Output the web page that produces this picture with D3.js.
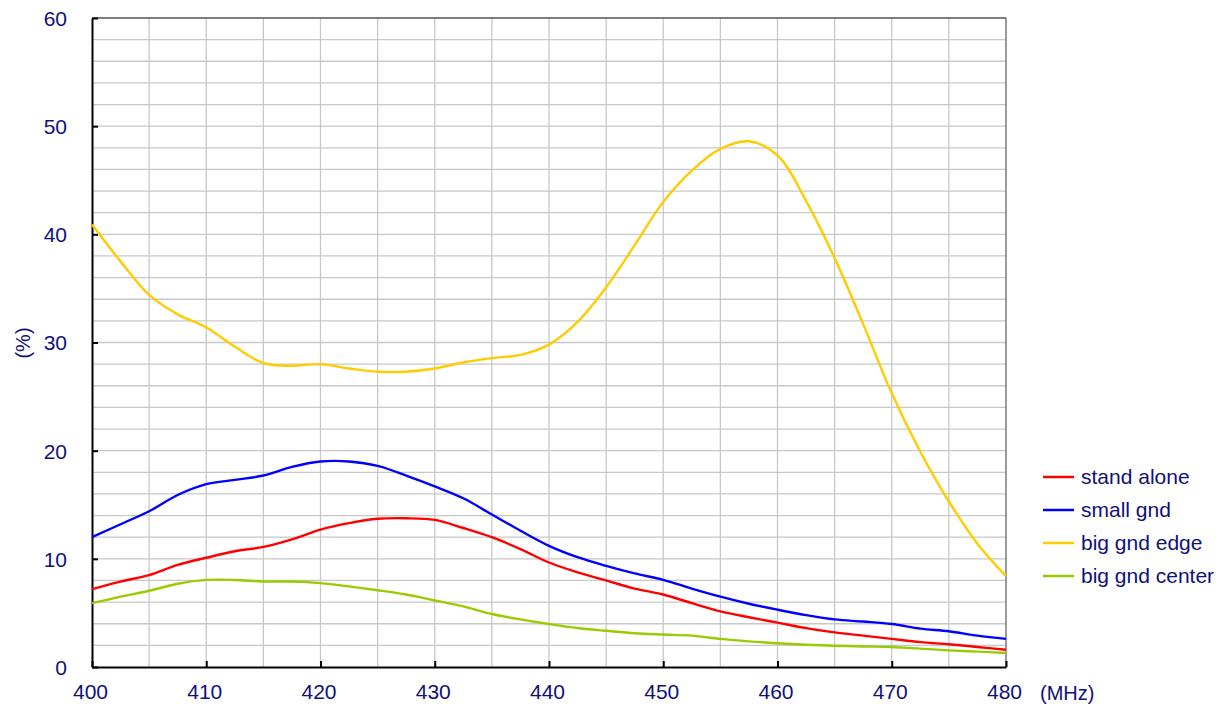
<!DOCTYPE html>
<html>
<head>
<meta charset="utf-8">
<script src="https://cdn.jsdelivr.net/npm/d3@7"></script>
<style>
  html, body { margin: 0; padding: 0; background: #fff; }
  svg { display: block; font-family: "Liberation Sans", Arial, sans-serif; }
</style>
</head>
<body>
<svg id="chart" width="1229" height="713"></svg>
<script>
// Frequency samples (MHz)
const freqs = [400, 402.5, 405, 407.5, 410, 412.5, 415, 417.5, 420, 422.5, 425, 427.5, 430,
  432.5, 435, 437.5, 440, 442.5, 445, 447.5, 450, 452.5, 455, 457.5, 460,
  462.5, 465, 467.5, 470, 472.5, 475, 477.5, 480];

// Efficiency (%) per configuration
const standAlone = [7.2, 7.9, 8.5, 9.45, 10.1, 10.7, 11.1, 11.8, 12.7, 13.3, 13.7, 13.75, 13.6,
  12.85, 12.0, 10.9, 9.66, 8.75, 8.0, 7.25, 6.7, 5.9, 5.15, 4.6, 4.1,
  3.6, 3.2, 2.9, 2.6, 2.3, 2.1, 1.85, 1.6];
const smallGnd = [12.0, 13.2, 14.4, 15.9, 16.9, 17.3, 17.7, 18.5, 19.0, 19.0, 18.6, 17.7, 16.7,
  15.6, 14.1, 12.6, 11.2, 10.15, 9.35, 8.65, 8.06, 7.25, 6.5, 5.85, 5.3,
  4.8, 4.4, 4.2, 3.97, 3.55, 3.3, 2.9, 2.6];
const bigGndEdge = [40.9, 37.5, 34.4, 32.6, 31.4, 29.6, 28.1, 27.85, 28.0, 27.6, 27.3, 27.3, 27.6,
  28.15, 28.55, 28.85, 29.8, 31.9, 35.1, 39.0, 43.0, 45.9, 47.9, 48.6, 47.3,
  43.1, 37.8, 31.7, 25.3, 19.9, 15.3, 11.4, 8.4];
const bigGndCenter = [5.9, 6.5, 7.05, 7.7, 8.05, 8.05, 7.9, 7.9, 7.75, 7.45, 7.1, 6.7, 6.15,
  5.6, 4.9, 4.4, 3.97, 3.6, 3.35, 3.12, 3.0, 2.9, 2.6, 2.37, 2.2,
  2.06, 1.97, 1.9, 1.85, 1.7, 1.54, 1.42, 1.3];

const seriesNames = ["stand alone", "small gnd", "big gnd edge", "big gnd center"];
const seriesColors = ["#ff0000", "#0000ff", "#ffcc00", "#99cc00"];
const seriesValues = [standAlone, smallGnd, bigGndEdge, bigGndCenter];

const xTicks = [400, 410, 420, 430, 440, 450, 460, 470, 480];
const yTicks = [0, 10, 20, 30, 40, 50, 60];

(function draw() {
  const textColor = "#10107a";
  const svg = d3.select("#chart");
  const pLeft = 92, pRight = 1006, pTop = 18, pBottom = 667;

  const x = d3.scaleLinear().domain([400, 480]).range([pLeft, pRight]);
  const y = d3.scaleLinear().domain([0, 60]).range([pBottom, pTop]);

  // grid
  const grid = svg.append("g");
  grid.selectAll("line.v").data(d3.range(405, 480, 5)).enter().append("line")
    .attr("x1", d => x(d)).attr("x2", d => x(d)).attr("y1", pTop).attr("y2", pBottom)
    .attr("stroke", "#c8c8c8").attr("stroke-width", 1.3);
  grid.selectAll("line.h").data(d3.range(2, 60, 2)).enter().append("line")
    .attr("x1", pLeft).attr("x2", pRight).attr("y1", d => y(d)).attr("y2", d => y(d))
    .attr("stroke", "#c8c8c8").attr("stroke-width", 1.3);

  // frame (top & right)
  svg.append("line").attr("x1", pLeft).attr("x2", pRight).attr("y1", pTop).attr("y2", pTop)
    .attr("stroke", "#555").attr("stroke-width", 1.3);
  svg.append("line").attr("x1", pRight).attr("x2", pRight).attr("y1", pTop).attr("y2", pBottom)
    .attr("stroke", "#666").attr("stroke-width", 1.3);

  // axes
  const xAxis = d3.axisBottom(x).tickValues(xTicks).tickSizeInner(-6).tickSizeOuter(0).tickPadding(17);
  const yAxis = d3.axisLeft(y).tickValues(yTicks).tickSizeInner(-6).tickSizeOuter(0).tickPadding(25);

  const gx = svg.append("g").attr("transform", `translate(0,${pBottom})`).call(xAxis);
  const gy = svg.append("g").attr("transform", `translate(${pLeft},0)`).call(yAxis);
  [gx, gy].forEach(g => {
    g.select(".domain").attr("stroke", "#000").attr("stroke-width", 2);
    g.selectAll(".tick line").attr("stroke", "#000").attr("stroke-width", 2);
    g.selectAll(".tick text").attr("fill", textColor).attr("font-size", 21)
      .attr("font-family", "Liberation Sans, Arial, sans-serif");
  });
  gx.selectAll(".tick text").attr("dy", "0.71em").attr("dx", -2);
  gy.selectAll(".tick text").attr("dy", "0.35em");

  // axis units
  svg.append("text").attr("x", 1040).attr("y", 700).attr("fill", textColor)
    .attr("font-size", 20).text("(MHz)");
  svg.append("text").attr("transform", "translate(30,343) rotate(-90)")
    .attr("text-anchor", "middle").attr("fill", textColor).attr("font-size", 20).text("(%)");

  // curves
  const line = d3.line()
    .x((d, i) => x(freqs[i]))
    .y(d => y(d))
    .curve(d3.curveCatmullRom.alpha(0.5));

  [2, 3, 0, 1].forEach(k => {
    svg.append("path").datum(seriesValues[k])
      .attr("d", line).attr("fill", "none")
      .attr("stroke", seriesColors[k]).attr("stroke-width", 2.4)
      .attr("stroke-linejoin", "round");
  });

  // legend
  const legend = svg.append("g");
  seriesNames.forEach((name, i) => {
    const ly = 477 + i * 33;
    legend.append("line").attr("x1", 1043).attr("x2", 1074).attr("y1", ly).attr("y2", ly)
      .attr("stroke", seriesColors[i]).attr("stroke-width", 2.5);
    legend.append("text").attr("x", 1081).attr("y", ly).attr("dy", "0.35em")
      .attr("fill", textColor).attr("font-size", 21).text(name);
  });
})();
</script>
</body>
</html>
